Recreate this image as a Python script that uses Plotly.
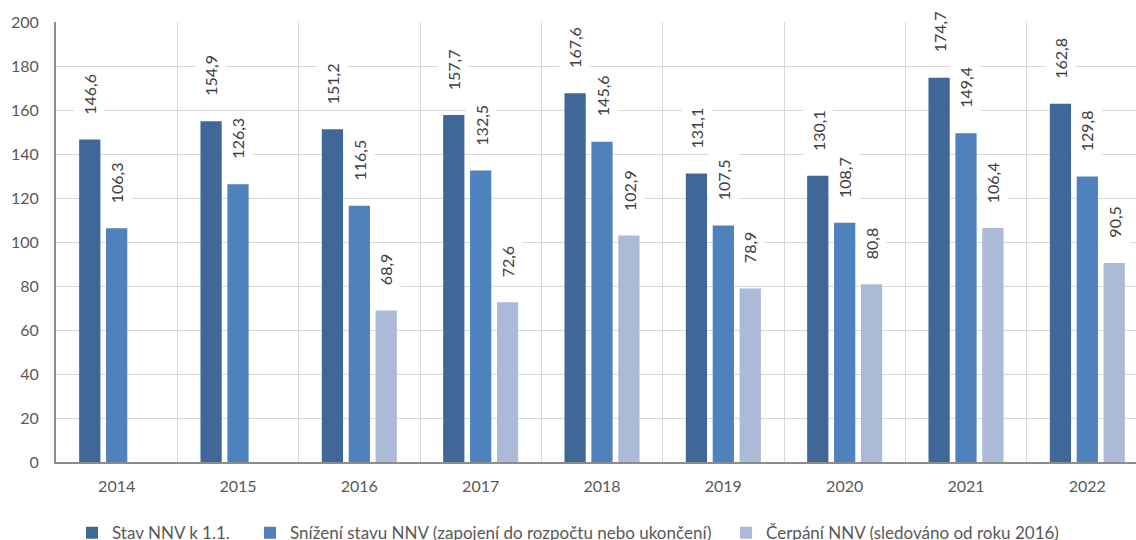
import plotly.graph_objects as go

# Annual values, in CZK bn
years = ["2014", "2015", "2016", "2017", "2018", "2019", "2020", "2021", "2022"]
stav = [146.6, 154.9, 151.2, 157.7, 167.6, 131.1, 130.1, 174.7, 162.8]
snizeni = [106.3, 126.3, 116.5, 132.5, 145.6, 107.5, 108.7, 149.4, 129.8]
cerpani = [None, None, 68.9, 72.6, 102.9, 78.9, 80.8, 106.4, 90.5]

series_names = [
    "Stav NNV k 1.1.",
    "Snížení stavu NNV (zapojení do rozpočtu nebo ukončení)",
    "Čerpání NNV (sledováno od roku 2016)",
]
series_values = [stav, snizeni, cerpani]
colors = ["#3F6899", "#4F81BD", "#AABAD7"]

FONT = "Lato"
TEXT = "#595959"
LABEL = "#404040"

PLOT_L, PLOT_W = 56, 1080
UNIT = 121.3                     # px per category
SLOT = UNIT * (1 - 0.335) / 3    # px per bar slot inside a group

fig = go.Figure()
legend_ids = ["legend2", "legend3", "legend4"]
for name, vals, col, lg in zip(series_names, series_values, colors, legend_ids):
    fig.add_trace(go.Bar(
        x=years, y=vals, name=name, marker=dict(color=col, line=dict(width=0)),
        legend=lg,
    ))

# Rotated value labels above each bar (category positions given by index)
annotations = []
for i, vals in enumerate(series_values):
    for k, v in enumerate(vals):
        if v is None:
            continue
        annotations.append(dict(
            x=k, y=v, xref="x", yref="y",
            text=f"{v:.1f}".replace(".", ","),
            showarrow=False, textangle=-90,
            xanchor="center", yanchor="bottom",
            xshift=(i - 1) * SLOT, yshift=19,
            bgcolor="white", borderpad=5,
            font=dict(family=FONT, size=16, color=LABEL),
        ))

def px_to_paper(px):
    return (px - PLOT_L) / PLOT_W

legend_common = dict(
    orientation="h", yanchor="middle", y=-0.162, xanchor="left",
    font=dict(family=FONT, size=17, color=TEXT), bgcolor="rgba(0,0,0,0)",
    borderwidth=0,
)

fig.update_layout(
    width=1136, height=540,
    margin=dict(l=PLOT_L, r=0, t=22, b=78, autoexpand=False),
    paper_bgcolor="white", plot_bgcolor="white",
    barmode="group", bargap=0.335, bargroupgap=0.21,
    font=dict(family=FONT, color=TEXT),
    annotations=annotations,
    legend2=dict(x=px_to_paper(72), **legend_common),
    legend3=dict(x=px_to_paper(250), **legend_common),
    legend4=dict(x=px_to_paper(726), **legend_common),
    xaxis=dict(
        type="category", range=[-0.5, 8.5 - 12 / UNIT],
        tickson="boundaries", showgrid=True, gridcolor="#D9D9D9", gridwidth=1.3,
        showline=True, linecolor="#8C8C8C", linewidth=2,
        ticks="", ticklabelstandoff=9,
        tickfont=dict(family=FONT, size=16, color=TEXT),
    ),
    yaxis=dict(
        range=[0, 200], dtick=20, showgrid=True, gridcolor="#D9D9D9", gridwidth=1.3,
        showline=True, linecolor="#8C8C8C", linewidth=2, zeroline=False,
        ticks="", ticklabelstandoff=12,
        tickfont=dict(family=FONT, size=16, color=TEXT),
    ),
)

fig.write_html("out.html")
